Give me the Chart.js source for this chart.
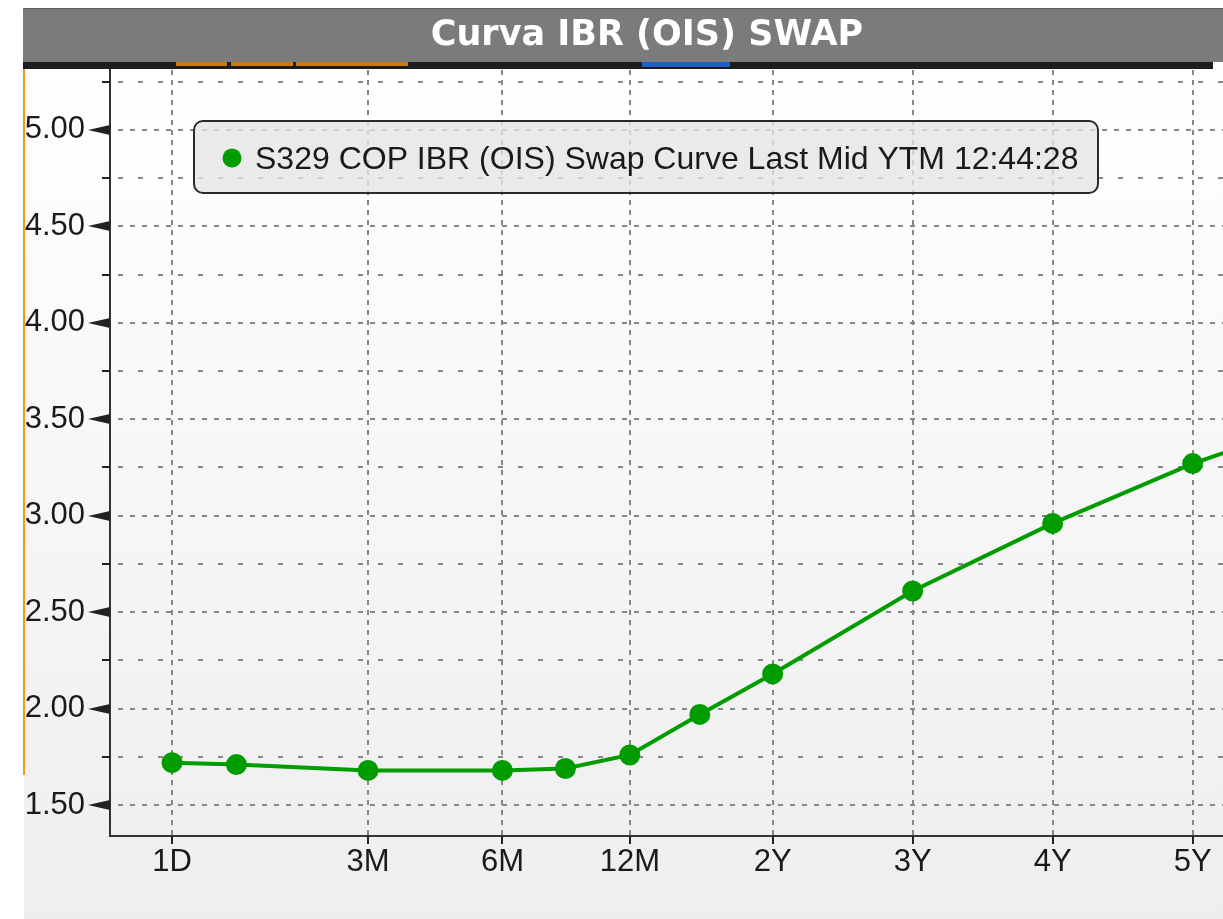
<!DOCTYPE html>
<html>
<head>
<meta charset="utf-8">
<title>Curva IBR (OIS) SWAP</title>
<script src="https://cdn.jsdelivr.net/npm/chart.js@4/dist/chart.umd.min.js"></script>
<style>
  html, body { margin: 0; padding: 0; background: #fff; overflow: hidden; }
  #wrap { position: relative; width: 1223px; height: 919px; }
</style>
</head>
<body>
<div id="wrap"><canvas id="curveChart" width="1223" height="919"></canvas></div>
<script>
// tenors of the curve and where they sit on the (non-uniform) maturity axis
const tenors = ['1D', '1M', '3M', '6M', '9M', '12M', '18M', '2Y', '3Y', '4Y', '5Y', '6Y'];
const tenorPos = [0, 0.46, 1.40, 2.36, 2.81, 3.27, 3.77, 4.29, 5.29, 6.29, 7.29, 8.29];
const midYtm = [1.72, 1.71, 1.68, 1.68, 1.69, 1.76, 1.97, 2.18, 2.61, 2.96, 3.27, 3.52];

const xTickLabels = ['1D', '3M', '6M', '12M', '2Y', '3Y', '4Y', '5Y'];
const yTickValues = [1.50, 1.75, 2.00, 2.25, 2.50, 2.75, 3.00, 3.25, 3.50, 3.75, 4.00, 4.25, 4.50, 4.75, 5.00, 5.25];

const chartTitle = 'Curva IBR (OIS) SWAP';
const seriesLabel = 'S329 COP IBR (OIS) Swap Curve Last Mid YTM 12:44:28';

const green = '#009c00';
const tickFont = { family: "'Liberation Sans', Arial, sans-serif", size: 31 };

const posOf = label => tenorPos[tenors.indexOf(label)];
const isMajor = v => Math.abs(v * 2 - Math.round(v * 2)) < 1e-9;

// frame: title bar, tab strip, panel background
const framePlugin = {
  id: 'frame',
  beforeDraw(chart) {
    const ctx = chart.ctx;
    const w = chart.width, h = chart.height;
    ctx.save();
    ctx.fillStyle = '#ffffff';
    ctx.fillRect(0, 0, w, h);

    const grad = ctx.createLinearGradient(0, 69, 0, h);
    grad.addColorStop(0, '#ffffff');
    grad.addColorStop(1, '#eeeeee');
    ctx.fillStyle = grad;
    ctx.fillRect(24, 69, w - 24, h - 69);

    ctx.fillStyle = '#7b7b7b';
    ctx.fillRect(23, 8, w - 23, 54);
    ctx.fillStyle = '#5e5e5e';
    ctx.fillRect(23, 8, w - 23, 1);

    ctx.fillStyle = '#1d1d1d';
    ctx.fillRect(23, 62, 1190, 7);
    ctx.fillStyle = '#c97a12';
    [[176, 51], [231, 62], [296, 112]].forEach(s => ctx.fillRect(s[0], 62, s[1], 4));
    ctx.fillStyle = '#1f5fc8';
    ctx.fillRect(642, 62, 88, 5);

    ctx.fillStyle = '#f39a1a';
    ctx.fillRect(23, 69, 2, 706);

    ctx.fillStyle = '#ffffff';
    ctx.font = "bold 35px 'DejaVu Sans', sans-serif";
    ctx.textAlign = 'center';
    ctx.textBaseline = 'middle';
    ctx.fillText(chartTitle, 647, 36);
    ctx.restore();
  }
};

// dashed grid, axis tick marks and the boxed legend
const gridPlugin = {
  id: 'bbgGrid',
  beforeDatasetsDraw(chart) {
    const { ctx, chartArea: a, scales: { x, y } } = chart;
    ctx.save();
    ctx.strokeStyle = '#878787';
    ctx.lineWidth = 2;

    yTickValues.forEach(v => {
      const py = Math.round(y.getPixelForValue(v));
      ctx.setLineDash(isMajor(v) ? [5, 7] : [5, 15]);
      ctx.beginPath();
      ctx.moveTo(a.left + 8, py);
      ctx.lineTo(a.right, py);
      ctx.stroke();
    });
    ctx.setLineDash([5, 5]);
    xTickLabels.forEach(l => {
      const px = Math.round(x.getPixelForValue(posOf(l)));
      ctx.beginPath();
      ctx.moveTo(px, a.top);
      ctx.lineTo(px, a.bottom);
      ctx.stroke();
    });
    ctx.setLineDash([]);

    // tick marks
    ctx.fillStyle = '#222';
    yTickValues.forEach(v => {
      const py = Math.round(y.getPixelForValue(v));
      if (isMajor(v)) {
        ctx.beginPath();
        ctx.moveTo(a.left - 22, py);
        ctx.lineTo(a.left, py - 5);
        ctx.lineTo(a.left, py + 5);
        ctx.closePath();
        ctx.fill();
      } else {
        ctx.fillRect(a.left - 8, py - 1, 8, 2);
      }
    });
    xTickLabels.forEach(l => {
      const px = Math.round(x.getPixelForValue(posOf(l)));
      ctx.fillRect(px - 1, a.bottom, 2, 8);
    });

    // legend box
    const bx = 194, by = 121, bw = 904, bh = 72;
    ctx.beginPath();
    ctx.roundRect(bx, by, bw, bh, 9);
    ctx.fillStyle = 'rgba(228,228,228,0.78)';
    ctx.fill();
    ctx.lineWidth = 2;
    ctx.strokeStyle = '#2a2a2a';
    ctx.stroke();

    const ds = chart.data.datasets[0];
    ctx.fillStyle = ds.borderColor;
    ctx.beginPath();
    ctx.arc(232, 158, 9.5, 0, Math.PI * 2);
    ctx.fill();

    ctx.fillStyle = '#1a1a1a';
    ctx.font = "32px 'Liberation Sans', Arial, sans-serif";
    ctx.textAlign = 'left';
    ctx.textBaseline = 'middle';
    ctx.fillText(ds.label, 255, 160);
    ctx.restore();
  }
};

const ctx = document.getElementById('curveChart');
new Chart(ctx, {
  type: 'line',
  data: {
    datasets: [{
      label: seriesLabel,
      data: tenorPos.map((p, i) => ({ x: p, y: midYtm[i] })),
      borderColor: green,
      backgroundColor: green,
      pointBackgroundColor: green,
      pointBorderColor: green,
      borderWidth: 4,
      pointRadius: 8.5,
      pointHoverRadius: 8.5,
      tension: 0
    }]
  },
  options: {
    responsive: false,
    animation: false,
    events: [],
    layout: { autoPadding: false, padding: { top: 70, left: 0, right: 0, bottom: 0 } },
    plugins: {
      legend: { display: false },
      title: { display: false },
      tooltip: { enabled: false }
    },
    scales: {
      x: {
        type: 'linear',
        min: -0.443,
        max: 7.507,
        grid: { display: false },
        border: { display: true, color: '#333', width: 2 },
        afterBuildTicks: scale => {
          scale.ticks = xTickLabels.map(l => ({ value: posOf(l) }));
        },
        afterFit: scale => {
          scale.height = 83;
          scale.paddingLeft = 0;
          scale.paddingRight = 0;
        },
        ticks: {
          autoSkip: false,
          maxRotation: 0,
          color: '#1a1a1a',
          font: tickFont,
          padding: 0,
          callback: value => tenors[tenorPos.indexOf(value)]
        }
      },
      y: {
        type: 'linear',
        min: 1.34,
        max: 5.31,
        grid: { display: false },
        border: { display: true, color: '#333', width: 2 },
        afterBuildTicks: scale => {
          scale.ticks = yTickValues.map(v => ({ value: v }));
        },
        afterFit: scale => {
          scale.width = 110;
          scale.paddingTop = 0;
          scale.paddingBottom = 0;
        },
        ticks: {
          autoSkip: false,
          color: '#1a1a1a',
          font: tickFont,
          padding: 17,
          callback: value => isMajor(value) ? value.toFixed(2) : ''
        }
      }
    }
  },
  plugins: [framePlugin, gridPlugin]
});
</script>
</body>
</html>
